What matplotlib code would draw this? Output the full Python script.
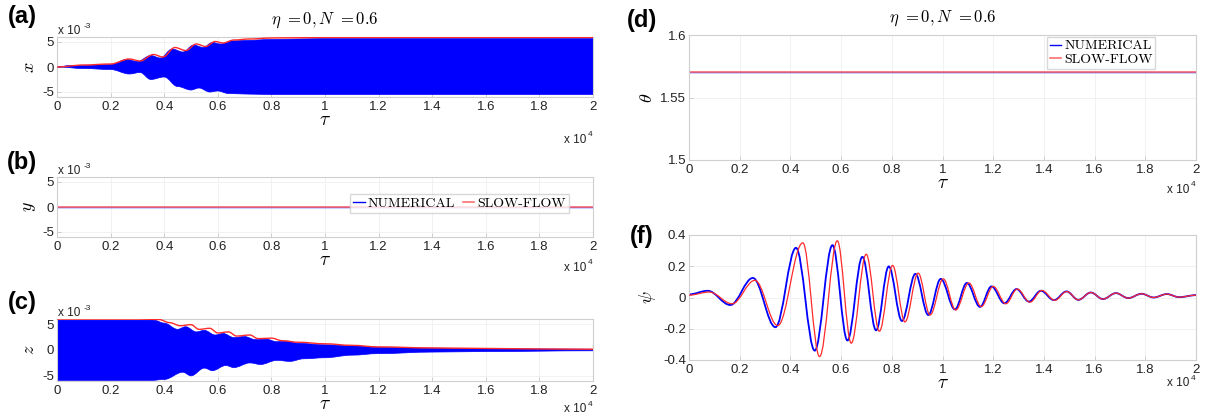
import numpy as np
import matplotlib.pyplot as plt
from matplotlib.path import Path
from matplotlib.patches import PathPatch
from matplotlib.ticker import FuncFormatter

plt.rcParams['mathtext.fontset'] = 'cm'
plt.rcParams['font.family'] = ['Liberation Sans', 'DejaVu Sans']
plt.rcParams['axes.unicode_minus'] = False

W, H = 1207, 417

# tau in units of 1e4, x/y/z in units of 1e-3 (as shown on the axes)
# (a) envelope of numerical x, and slow-flow amplitude
tau_a_up = [0, 0.05, 0.1, 0.15, 0.2, 0.26, 0.3, 0.35, 0.385, 0.43, 0.47, 0.51, 0.545, 0.58, 0.61, 0.65, 0.7, 0.8, 0.9, 1.0, 1.2, 2.0]
x_num_up = [0, 0.3, 0.3, 0.4, 0.5, 1.5, 1.1, 2.3, 1.8, 3.6, 3.0, 4.4, 3.9, 4.9, 4.6, 5.2, 5.3, 5.5, 5.6, 5.7, 5.7, 5.7]
tau_a_lo = [0, 0.1, 0.2, 0.27, 0.31, 0.35, 0.4, 0.45, 0.5, 0.53, 0.57, 0.6, 0.64, 0.7, 0.8, 1.0, 2.0]
x_num_lo = [0, -0.3, -0.5, -1.4, -1.1, -2.5, -2.0, -3.9, -4.6, -4.2, -5.0, -4.8, -5.3, -5.4, -5.5, -5.5, -5.5]
tau_a_sf = [0, 0.1, 0.2, 0.27, 0.31, 0.36, 0.395, 0.44, 0.48, 0.52, 0.555, 0.59, 0.62, 0.66, 0.72, 0.8, 1.0, 2.0]
x_sf = [0, 0.4, 0.6, 1.6, 1.2, 2.5, 2.0, 3.9, 3.3, 4.6, 4.1, 5.1, 4.8, 5.4, 5.6, 5.8, 5.9, 5.9]

# (b) y stays at zero
tau_b = [0, 2.0]
y_num = [0, 0]
y_sf = [0, 0]

# (c) envelope of numerical z, and slow-flow amplitude
tau_c_up = [0, 0.3, 0.36, 0.4, 0.45, 0.48, 0.52, 0.55, 0.59, 0.62, 0.66, 0.7, 0.74, 0.78, 0.82, 0.86, 0.9, 1.0, 1.1, 1.2, 1.4, 1.6, 1.8, 2.0]
z_num_up = [5.9, 5.9, 5.8, 5.2, 4.0, 4.5, 3.5, 3.8, 2.9, 3.2, 2.4, 2.6, 2.0, 2.1, 1.6, 1.7, 1.3, 1.0, 0.8, 0.5, 0.35, 0.25, 0.2, 0.15]
tau_c_lo = [0, 0.35, 0.4, 0.47, 0.5, 0.55, 0.58, 0.63, 0.66, 0.72, 0.76, 0.82, 0.87, 0.92, 1.0, 1.1, 1.2, 1.4, 1.6, 2.0]
z_num_lo = [-5.9, -5.9, -5.7, -4.3, -5.0, -3.5, -4.0, -3.0, -3.4, -2.5, -2.8, -2.0, -2.2, -1.7, -1.5, -1.0, -0.7, -0.4, -0.3, -0.15]
tau_c_sf = [0, 0.3, 0.38, 0.42, 0.46, 0.5, 0.53, 0.57, 0.6, 0.64, 0.67, 0.72, 0.75, 0.8, 0.84, 0.9, 1.0, 1.1, 1.2, 1.4, 1.6, 1.8, 2.0]
z_sf = [6.0, 6.0, 5.9, 5.3, 4.7, 4.9, 4.0, 4.2, 3.3, 3.5, 2.7, 2.9, 2.2, 2.3, 1.8, 1.5, 1.2, 0.9, 0.6, 0.4, 0.3, 0.2, 0.15]

# (d) theta
tau_d = [0, 2.0]
theta_num = [1.5708, 1.5708]
theta_sf = [1.5708, 1.5708]

# (f) psi, read at extrema
tau_f_num = [0, 0.074, 0.163, 0.252, 0.341, 0.422, 0.496, 0.566, 0.625, 0.684, 0.738, 0.788, 0.84, 0.893, 0.944,
             0.993, 1.049, 1.096, 1.148, 1.193, 1.244, 1.292, 1.341, 1.388, 1.44, 1.489, 1.536, 1.585, 1.633,
             1.684, 1.733, 1.785, 1.833, 1.885, 1.933, 2.0]
psi_num = [0.02, 0.043, -0.048, 0.125, -0.19, 0.318, -0.34, 0.335, -0.275, 0.26, -0.21, 0.199, -0.15, 0.151, -0.112,
           0.119, -0.076, 0.093, -0.06, 0.071, -0.037, 0.054, -0.026, 0.043, -0.017, 0.039, -0.015, 0.032, -0.01,
           0.028, -0.004, 0.024, 0.0, 0.022, 0.002, 0.015]
tau_f_sf = [0, 0.08, 0.17, 0.26, 0.35, 0.449, 0.515, 0.585, 0.64, 0.699, 0.751, 0.803, 0.852, 0.904, 0.951,
            1.003, 1.052, 1.104, 1.153, 1.2, 1.25, 1.295, 1.345, 1.392, 1.443, 1.49, 1.536, 1.585, 1.633,
            1.684, 1.733, 1.785, 1.833, 1.885, 1.933, 2.0]
psi_sf = [0.015, 0.035, -0.04, 0.11, -0.18, 0.35, -0.378, 0.363, -0.292, 0.277, -0.216, 0.205, -0.156, 0.156, -0.112,
          0.119, -0.08, 0.093, -0.058, 0.071, -0.04, 0.054, -0.03, 0.045, -0.018, 0.038, -0.015, 0.032, -0.01,
          0.028, -0.004, 0.024, 0.0, 0.022, 0.002, 0.015]

BLUE = '#0000ff'
RED = '#ff2a2a'
LIGHTRED = '#ff7070'
LEG_FONT = {'family': 'cmr10', 'size': 10}


def bez(xs, ys, k=0.36):
    # cubic segments with flat tangents at each read point
    v = [(xs[0], ys[0])]
    c = [Path.MOVETO]
    for i in range(1, len(xs)):
        d = xs[i] - xs[i - 1]
        v += [(xs[i - 1] + k * d, ys[i - 1]), (xs[i] - k * d, ys[i]), (xs[i], ys[i])]
        c += [Path.CURVE4] * 3
    return v, c


def curve(ax, xs, ys, **kw):
    v, c = bez(xs, ys)
    ax.add_patch(PathPatch(Path(v, c), fill=False, **kw))


def band(ax, x1, y1, x2, y2, **kw):
    v1, c1 = bez(x1, y1)
    v2, c2 = bez(x2[::-1], y2[::-1])
    c2[0] = Path.LINETO
    ax.add_patch(PathPatch(Path(v1 + v2 + [v1[0]], c1 + c2 + [Path.CLOSEPOLY]), **kw))


def box(l, t, r, b):
    return [l / W, 1 - b / H, (r - l) / W, (b - t) / H]


def style(ax, ylim, yticks, ylabel, ylab_x):
    ax.set_xlim(0, 2)
    ax.set_ylim(*ylim)
    ax.set_xticks(np.arange(0, 2.01, 0.2))
    ax.set_yticks(yticks)
    ax.xaxis.set_major_formatter(FuncFormatter(lambda v, p: f'{v:g}'))
    ax.yaxis.set_major_formatter(FuncFormatter(lambda v, p: f'{v:g}'))
    ax.tick_params(direction='in', length=3, width=0.6, color='#c8c8c8', labelsize=9.5,
                   labelcolor='#222222')
    ax.tick_params(axis='x', pad=3)
    ax.tick_params(axis='y', pad=2)
    for s in ax.spines.values():
        s.set_color('#cfcfcf')
        s.set_linewidth(0.8)
    ax.grid(True, color='#efefef', lw=0.6)
    ax.set_axisbelow(True)
    ax.set_xlabel(r'$\tau$', fontsize=14, labelpad=-1)
    ax.set_ylabel(ylabel, fontsize=13)
    ax.yaxis.set_label_coords(ylab_x, 0.5)


def mult(x, y, ha='left'):
    fig.text(x / W, 1 - y / H, 'x 10', fontsize=8.5, color='#222222', ha=ha, va='center')


def sup(x, y, s):
    fig.text(x / W, 1 - y / H, s, fontsize=6, color='#222222', ha='left', va='center')


fig = plt.figure(figsize=(W / 100, H / 100), dpi=100)

axa = fig.add_axes(box(57, 37, 593, 97))
axb = fig.add_axes(box(57, 177, 593, 237))
axc = fig.add_axes(box(57, 319, 593, 381))
axd = fig.add_axes(box(689, 35, 1196, 160))
axf = fig.add_axes(box(689, 235, 1196, 360))

# (a)
band(axa, tau_a_up, x_num_up, tau_a_lo, x_num_lo, facecolor=BLUE, edgecolor=BLUE, lw=0.5, zorder=2)
curve(axa, tau_a_sf, x_sf, edgecolor=RED, lw=1.0, zorder=3)
style(axa, (-6, 6), [-5, 0, 5], r'$x$', -0.036)

# (b)
axb.plot(tau_b, y_num, color=BLUE, lw=1.0, label='NUMERICAL')
axb.plot(tau_b, y_sf, color=LIGHTRED, lw=1.2, label='SLOW-FLOW')
style(axb, (-6, 6), [-5, 0, 5], r'$y$', -0.036)
axb.legend(loc='upper right', bbox_to_anchor=(0.955, 0.72), ncol=2, prop=LEG_FONT, frameon=True,
           fancybox=False, edgecolor='#cfcfcf', handlelength=0.8, handletextpad=0.2, columnspacing=0.6,
           borderpad=0.25, borderaxespad=0)

# (c)
band(axc, tau_c_up, z_num_up, tau_c_lo, z_num_lo, facecolor=BLUE, edgecolor=BLUE, lw=0.5, zorder=2)
curve(axc, tau_c_sf, z_sf, edgecolor=RED, lw=1.0, zorder=3)
style(axc, (-6, 6), [-5, 0, 5], r'$z$', -0.036)

# (d)
axd.plot(tau_d, theta_num, color=BLUE, lw=1.0, label='NUMERICAL')
axd.plot(tau_d, theta_sf, color=LIGHTRED, lw=1.2, label='SLOW-FLOW')
style(axd, (1.5, 1.6), [1.5, 1.55, 1.6], r'$\theta$', -0.066)
axd.legend(loc='upper right', bbox_to_anchor=(0.92, 0.985), ncol=1, prop=LEG_FONT, frameon=True,
           fancybox=False, edgecolor='#cfcfcf', handlelength=0.8, handletextpad=0.2, labelspacing=0.05,
           borderpad=0.2, borderaxespad=0)

# (f)
curve(axf, tau_f_num, psi_num, edgecolor=BLUE, lw=1.3, zorder=2)
curve(axf, tau_f_sf, psi_sf, edgecolor=RED, lw=0.9, zorder=3)
style(axf, (-0.4, 0.4), [-0.4, -0.2, 0, 0.2, 0.4], r'$\psi$', -0.062)

# titles and panel letters
fig.text(325 / W, 1 - 20 / H, r'$\eta\ =0,N\ =0.6$', fontsize=12, ha='center', va='center')
fig.text(943 / W, 1 - 18 / H, r'$\eta\ =0,N\ =0.6$', fontsize=12, ha='center', va='center')
for lab, x, y in [('(a)', 22, 17), ('(b)', 22, 162), ('(c)', 22, 303), ('(d)', 642, 20), ('(f)', 642, 237)]:
    fig.text(x / W, 1 - y / H, lab, fontsize=17, fontweight='bold', ha='center', va='center')

# axis multipliers
for y in [31, 171, 313]:
    mult(58, y)
    sup(84, y - 5, '-3')
for x, y in [(575, 140), (575, 268), (575, 409), (1178, 190), (1178, 383)]:
    mult(x, y, ha='center')
    sup(x + 13, y - 5, '4')

fig.savefig('out.png', dpi=100)
